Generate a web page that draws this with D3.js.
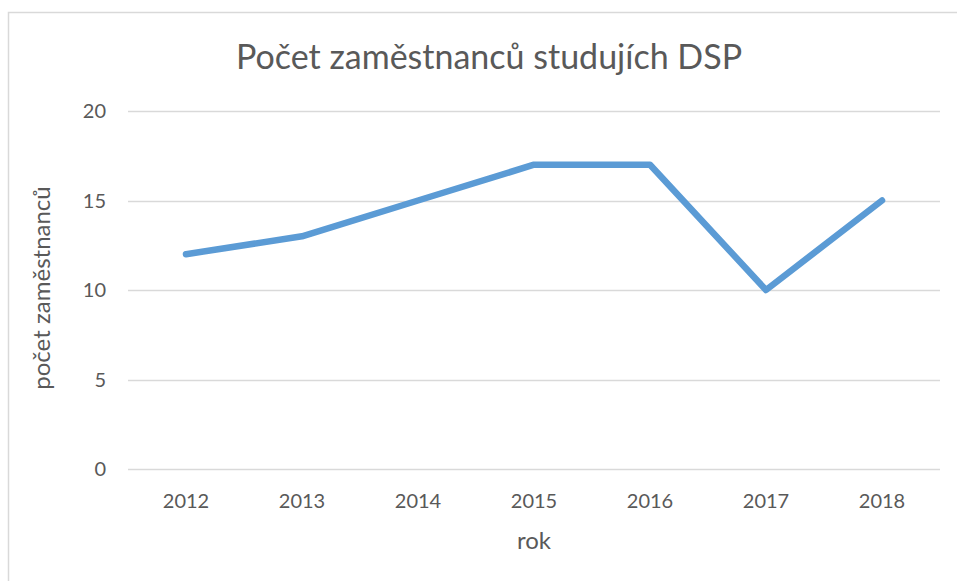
<!DOCTYPE html>
<html>
<head>
<meta charset="utf-8">
<script src="https://cdn.jsdelivr.net/npm/d3@7"></script>
<style>
  body { margin: 0; background: #fff; }
  text { font-family: Lato, "Open Sans", sans-serif; fill: #595959; }
</style>
</head>
<body>
<script>
var years = ["2012", "2013", "2014", "2015", "2016", "2017", "2018"];
var staff = [12, 13, 15, 17, 17, 10, 15];
var yTicks = [0, 5, 10, 15, 20];

var w = 957, h = 581;
var plotLeft = 128, plotRight = 940, plotTop = 111, plotBottom = 469;

var svg = d3.select("body").append("svg")
    .attr("width", w)
    .attr("height", h);

// chart frame
svg.append("rect")
    .attr("x", 8.5).attr("y", 12.5)
    .attr("width", 960).attr("height", 600)
    .attr("fill", "none")
    .attr("stroke", "#d9d9d9")
    .attr("stroke-width", 1.5);

var x = d3.scaleBand().domain(years).range([plotLeft, plotRight]);
var y = d3.scaleLinear().domain([0, 20]).range([plotBottom, plotTop]);

// gridlines
svg.selectAll("line.grid")
    .data(yTicks)
    .enter()
    .append("line")
    .attr("class", "grid")
    .attr("x1", plotLeft).attr("x2", plotRight)
    .attr("y1", function(d) { return Math.round(y(d)) + 0.5; })
    .attr("y2", function(d) { return Math.round(y(d)) + 0.5; })
    .attr("stroke", "#d9d9d9")
    .attr("stroke-width", 1.3);

// y labels
svg.selectAll("text.ylab")
    .data(yTicks)
    .enter()
    .append("text")
    .attr("class", "ylab")
    .attr("x", 106)
    .attr("y", function(d) { return y(d) + 7; })
    .attr("text-anchor", "end")
    .attr("font-size", "20px")
    .text(function(d) { return d; });

// x labels
svg.selectAll("text.xlab")
    .data(years)
    .enter()
    .append("text")
    .attr("class", "xlab")
    .attr("x", function(d) { return x(d) + x.bandwidth() / 2; })
    .attr("y", 508)
    .attr("text-anchor", "middle")
    .attr("font-size", "20px")
    .text(function(d) { return d; });

var line = d3.line()
    .x(function(d, i) { return x(years[i]) + x.bandwidth() / 2; })
    .y(function(d) { return y(d); });

svg.append("path")
    .datum(staff)
    .attr("d", line)
    .attr("fill", "none")
    .attr("stroke", "#5b9bd5")
    .attr("stroke-width", 6.5)
    .attr("stroke-linejoin", "round")
    .attr("stroke-linecap", "round");

// title
svg.append("text")
    .attr("x", 489).attr("y", 69)
    .attr("text-anchor", "middle")
    .attr("font-size", "34px")
    .text("Počet zaměstnanců studujích DSP");

// axis titles
svg.append("text")
    .attr("x", 534).attr("y", 549)
    .attr("text-anchor", "middle")
    .attr("font-size", "24px")
    .text("rok");

svg.append("text")
    .attr("transform", "translate(50,288) rotate(-90)")
    .attr("text-anchor", "middle")
    .attr("font-size", "24px")
    .text("počet zaměstnanců");
</script>
</body>
</html>
